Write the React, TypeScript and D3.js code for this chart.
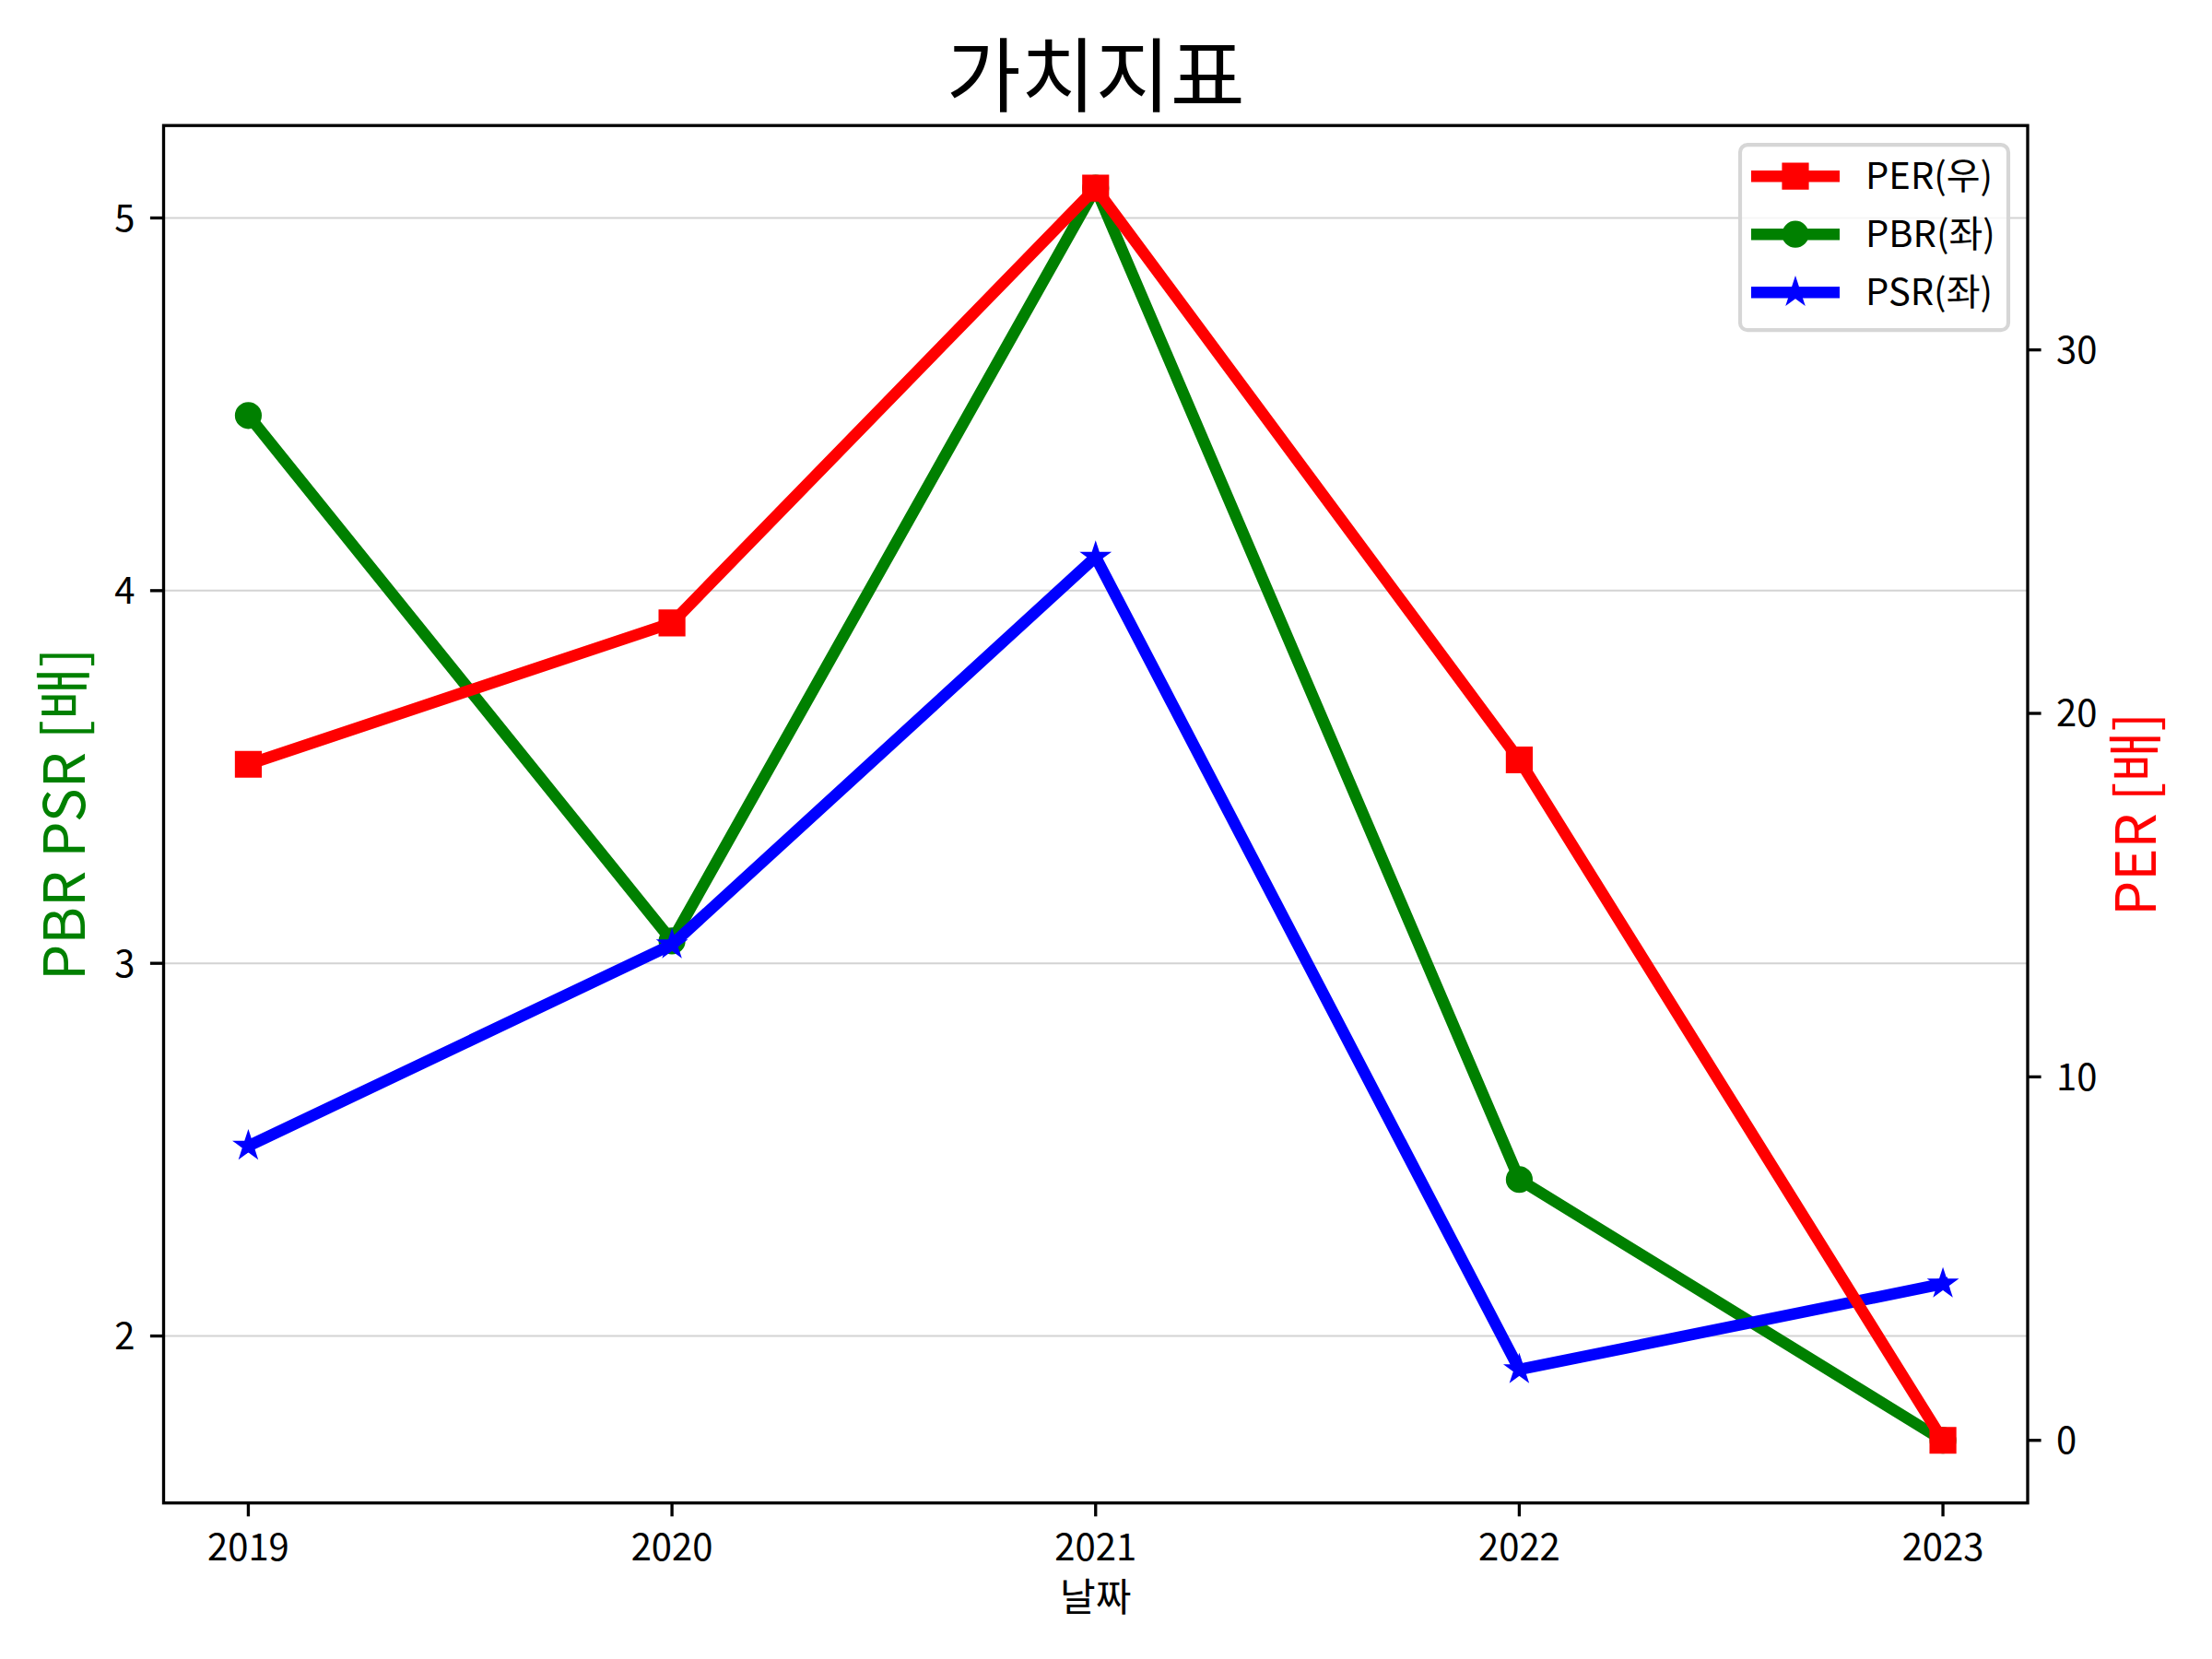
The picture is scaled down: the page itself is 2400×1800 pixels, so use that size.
import { useEffect, useRef } from 'react';
import * as d3 from 'd3';

// 연도별 가치지표
const years = ['2019', '2020', '2021', '2022', '2023'];
const perValues = [18.6, 22.49, 34.45, 18.72, 0.0];
const pbrValues = [4.47, 3.06, 5.08, 2.42, 1.72];
const psrValues = [2.51, 3.05, 4.09, 1.91, 2.14];

const leftTicks = [2, 3, 4, 5];
const rightTicks = [0, 10, 20, 30];

const legendLabels = ['PER(우)', 'PBR(좌)', 'PSR(좌)'];

const FONT = '"Noto Sans CJK KR", "Noto Sans", sans-serif';

const padded = (lo: number, hi: number): [number, number] => {
  const r = hi - lo;
  return [lo - r * 0.05, hi + r * 0.05];
};

const App = () => {
  const svgRef = useRef<SVGSVGElement>(null);
  const width = 2400;
  const height = 1800;

  useEffect(() => {
    if (!svgRef.current) return;
    d3.select(svgRef.current).selectAll('*').remove();

    const margin = { top: 136.2, right: 200, bottom: 169.3, left: 177.5 };
    const innerWidth = width - margin.left - margin.right;
    const innerHeight = height - margin.top - margin.bottom;

    const svg = d3.select(svgRef.current);
    svg.append('rect').attr('width', width).attr('height', height).attr('fill', '#fff');

    const g = svg.append('g')
      .attr('transform', `translate(${margin.left},${margin.top})`);

    // Scales
    const xScale = d3.scaleLinear()
      .domain([-0.2, years.length - 1 + 0.2])
      .range([0, innerWidth]);

    const leftAll = [...pbrValues, ...psrValues];
    const yLeft = d3.scaleLinear()
      .domain(padded(d3.min(leftAll) || 0, d3.max(leftAll) || 0))
      .range([innerHeight, 0]);

    const yRight = d3.scaleLinear()
      .domain(padded(d3.min(perValues) || 0, d3.max(perValues) || 0))
      .range([innerHeight, 0]);

    // Horizontal grid (left axis)
    g.selectAll('.grid')
      .data(leftTicks)
      .join('line')
      .attr('x1', 0)
      .attr('x2', innerWidth)
      .attr('y1', d => yLeft(d))
      .attr('y2', d => yLeft(d))
      .attr('stroke', '#d3d3d3')
      .attr('stroke-width', 2);

    const line = d3.line<number>()
      .x((_, i) => xScale(i));

    const markerSize = (m: d3.SymbolType) =>
      m === d3.symbolStar ? 150 : m === d3.symbolCircle ? 491 : 625;

    const drawSeries = (
      values: number[],
      y: d3.ScaleLinear<number, number>,
      color: string,
      marker: d3.SymbolType
    ) => {
      g.append('path')
        .datum(values)
        .attr('fill', 'none')
        .attr('stroke', color)
        .attr('stroke-width', 12.5)
        .attr('stroke-linejoin', 'round')
        .attr('stroke-linecap', 'square')
        .attr('d', line.y(d => y(d)));

      g.selectAll(null)
        .data(values)
        .join('path')
        .attr('transform', (d, i) => `translate(${xScale(i)},${y(d)})`)
        .attr('d', d3.symbol().type(marker).size(markerSize(marker))())
        .attr('fill', color)
        .attr('stroke', color)
        .attr('stroke-width', 4.17)
        .attr('stroke-linejoin', 'miter');
    };

    drawSeries(pbrValues, yLeft, '#008000', d3.symbolCircle);
    drawSeries(psrValues, yLeft, '#0000ff', d3.symbolStar);
    drawSeries(perValues, yRight, '#ff0000', d3.symbolSquare);

    // Frame
    g.append('rect')
      .attr('width', innerWidth)
      .attr('height', innerHeight)
      .attr('fill', 'none')
      .attr('stroke', '#000')
      .attr('stroke-width', 3.33);

    // X ticks
    const xt = g.append('g');
    years.forEach((yr, i) => {
      xt.append('line')
        .attr('x1', xScale(i)).attr('x2', xScale(i))
        .attr('y1', innerHeight).attr('y2', innerHeight + 14.6)
        .attr('stroke', '#000').attr('stroke-width', 3.33);
      xt.append('text')
        .attr('x', xScale(i))
        .attr('y', innerHeight + 62)
        .attr('text-anchor', 'middle')
        .style('font-family', FONT)
        .style('font-size', '40px')
        .style('fill', '#000')
        .text(yr);
    });

    // Left ticks
    leftTicks.forEach(t => {
      g.append('line')
        .attr('x1', -14.6).attr('x2', 0)
        .attr('y1', yLeft(t)).attr('y2', yLeft(t))
        .attr('stroke', '#000').attr('stroke-width', 3.33);
      g.append('text')
        .attr('x', -31)
        .attr('y', yLeft(t) + 14.5)
        .attr('text-anchor', 'end')
        .style('font-family', FONT)
        .style('font-size', '40px')
        .style('fill', '#000')
        .text(t);
    });

    // Right ticks
    rightTicks.forEach(t => {
      g.append('line')
        .attr('x1', innerWidth).attr('x2', innerWidth + 14.6)
        .attr('y1', yRight(t)).attr('y2', yRight(t))
        .attr('stroke', '#000').attr('stroke-width', 3.33);
      g.append('text')
        .attr('x', innerWidth + 31)
        .attr('y', yRight(t) + 14.5)
        .attr('text-anchor', 'start')
        .style('font-family', FONT)
        .style('font-size', '40px')
        .style('fill', '#000')
        .text(t);
    });

    // Title
    g.append('text')
      .attr('x', innerWidth / 2)
      .attr('y', -22)
      .attr('text-anchor', 'middle')
      .style('font-family', FONT)
      .style('font-size', '88px')
      .style('fill', '#000')
      .text('가치지표');

    // X label
    g.append('text')
      .attr('x', innerWidth / 2)
      .attr('y', innerHeight + 117)
      .attr('text-anchor', 'middle')
      .style('font-family', FONT)
      .style('font-size', '42px')
      .style('fill', '#000')
      .text('날짜');

    // Y labels
    g.append('text')
      .attr('transform', `translate(${92 - margin.left},${innerHeight / 2}) rotate(-90)`)
      .attr('text-anchor', 'middle')
      .style('font-family', FONT)
      .style('font-size', '62px')
      .style('fill', '#008000')
      .text('PBR PSR [배]');

    g.append('text')
      .attr('transform', `translate(${innerWidth + 139},${innerHeight / 2}) rotate(-90)`)
      .attr('text-anchor', 'middle')
      .style('font-family', FONT)
      .style('font-size', '60px')
      .style('fill', '#ff0000')
      .text('PER [배]');

    // Legend
    const legendW = 291;
    const legendH = 201;
    const legend = g.append('g')
      .attr('transform', `translate(${innerWidth - 21 - legendW},${21})`);

    legend.append('rect')
      .attr('width', legendW)
      .attr('height', legendH)
      .attr('rx', 8)
      .attr('fill', 'rgba(255,255,255,0.8)')
      .attr('stroke', '#d6d6d6')
      .attr('stroke-width', 4.17);

    const legendColors = ['#ff0000', '#008000', '#0000ff'];
    const legendMarkers = [d3.symbolSquare, d3.symbolCircle, d3.symbolStar];

    legendLabels.forEach((label, i) => {
      const cy = 34 + i * 63;
      legend.append('line')
        .attr('x1', 12).attr('x2', 108)
        .attr('y1', cy).attr('y2', cy)
        .attr('stroke', legendColors[i])
        .attr('stroke-width', 12.5);
      legend.append('path')
        .attr('transform', `translate(60,${cy})`)
        .attr('d', d3.symbol().type(legendMarkers[i]).size(markerSize(legendMarkers[i]))())
        .attr('fill', legendColors[i])
        .attr('stroke', legendColors[i])
        .attr('stroke-width', 4.17);
      legend.append('text')
        .attr('x', 136)
        .attr('y', cy + 14)
        .style('font-family', FONT)
        .style('font-size', '40px')
        .style('fill', '#000')
        .text(label);
    });
  }, []);

  return (
    <div style={{ position: 'absolute', left: 0, top: 0, width, height, background: '#fff' }}>
      <svg ref={svgRef} width={width} height={height} style={{ display: 'block' }} />
    </div>
  );
};

export default App;
